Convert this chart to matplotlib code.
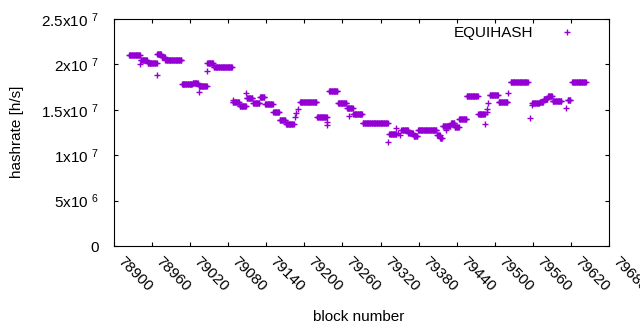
import numpy as np
import matplotlib
matplotlib.use('Agg')
from matplotlib import pyplot as plt
from matplotlib import transforms

# steady stretches of hashrate (block from, block to, value in 1e6 h/s)
seg_start = [78924, 78942, 78953, 78968, 78975, 78981, 79007, 79024, 79034, 79047,
             79057, 79087, 79098, 79109, 79119, 79130, 79138, 79151, 79161, 79171,
             79193, 79220, 79239, 79253, 79267, 79277, 79292, 79334, 79353, 79364,
             79372, 79379, 79409, 79414, 79418, 79431, 79437, 79444, 79456, 79474,
             79492, 79506, 79525, 79559, 79571, 79577, 79584, 79591, 79615, 79622]
seg_end = [78941, 78952, 78967, 78974, 78980, 79006, 79023, 79032, 79046, 79056,
           79086, 79097, 79108, 79118, 79129, 79137, 79150, 79160, 79170, 79183,
           79219, 79235, 79252, 79266, 79276, 79291, 79331, 79345, 79363, 79371,
           79378, 79408, 79413, 79417, 79430, 79436, 79443, 79455, 79473, 79484,
           79505, 79520, 79552, 79570, 79576, 79583, 79590, 79605, 79619, 79643]
seg_value = [21.0, 20.5, 20.2, 21.2, 20.8, 20.45, 17.85, 17.95, 17.6, 20.1,
             19.7, 15.86, 15.4, 16.35, 15.7, 16.4, 15.6, 14.8, 13.9, 13.4,
             15.86, 14.26, 17.07, 15.8, 15.2, 14.5, 13.5, 12.3, 12.8, 12.5,
             12.1, 12.8, 12.2, 11.85, 13.2, 13.5, 13.1, 14.0, 16.5, 14.5,
             16.6, 15.86, 18.06, 15.75, 15.9, 16.15, 16.5, 16.0, 16.1, 18.06]

# single stray points
out_block = [78941, 78968, 79034, 79047, 79088, 79108, 79186, 79187, 79190, 79235,
             79236, 79271, 79331, 79345, 79347, 79350, 79423, 79484, 79487, 79488,
             79490, 79521, 79556, 79558, 79612]
out_value = [20.0, 18.8, 17.0, 19.3, 16.08, 16.8, 14.2, 14.6, 15.05, 13.7,
             13.3, 14.3, 11.5, 13.0, 12.4, 12.2, 12.8, 13.4, 14.75, 15.1,
             15.7, 16.9, 14.06, 15.5, 15.2]

x_ticks = list(range(78900, 79681, 60))
y_ticks = [0, 5e6, 1e7, 1.5e7, 2e7, 2.5e7]
y_labels = ['0', '5x10 $^{6}$', '1x10 $^{7}$', '1.5x10 $^{7}$', '2x10 $^{7}$', '2.5x10 $^{7}$']

blocks = np.concatenate([np.arange(s, e + 1) for s, e in zip(seg_start, seg_end)] + [np.array(out_block)])
rates = np.concatenate([np.full(e - s + 1, v) for s, e, v in zip(seg_start, seg_end, seg_value)]
                       + [np.array(out_value)]) * 1e6

plt.rcParams['font.family'] = ['Liberation Sans', 'DejaVu Sans']
plt.rcParams['mathtext.default'] = 'regular'
plt.rcParams['font.size'] = 11

fig = plt.figure(figsize=(6.4, 3.3), dpi=100)
ax = fig.add_axes([114 / 640, 84 / 330, 495 / 640, 227 / 330])
ax.plot(blocks, rates, linestyle='none', marker='+', markersize=5, markeredgewidth=1,
        color='#9400d3', label='EQUIHASH')

ax.set_xlim(78900, 79680)
ax.set_ylim(0, 2.5e7)
ax.set_xticks(x_ticks)
ax.set_xticklabels([str(t) for t in x_ticks], rotation=-45, ha='left', va='top',
                   rotation_mode='anchor')
ax.set_yticks(y_ticks)
ax.set_yticklabels(y_labels)
ax.tick_params(direction='in', length=3, width=0.8, top=True, right=True, labelsize=11)
ax.tick_params(axis='x', pad=6)
ax.tick_params(axis='y', pad=11)
shift = transforms.ScaledTranslation(11 / 100, 0, fig.dpi_scale_trans)
for lab in ax.get_xticklabels():
    lab.set_transform(lab.get_transform() + shift)
for s in ax.spines.values():
    s.set_linewidth(0.8)

fig.text(17 / 640, 1 - 132 / 330, 'hashrate [h/s]', rotation=90, ha='center', va='center', fontsize=11)
fig.text(359 / 640, 1 - 317 / 330, 'block number', ha='center', va='center', fontsize=11)

ax.legend(loc='upper right', bbox_to_anchor=(582 / 640, 1 - 26 / 330), bbox_transform=fig.transFigure,
          frameon=False, markerfirst=False, handlelength=2, handletextpad=1.2,
          borderpad=0, borderaxespad=0, fontsize=11)

fig.savefig('out.png', dpi=100)
